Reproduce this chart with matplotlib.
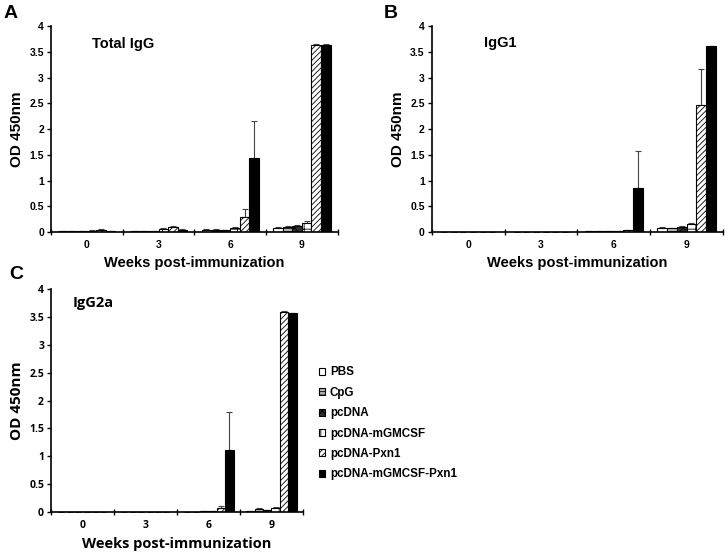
import numpy as np
import matplotlib.pyplot as plt

plt.rcParams['font.family'] = ['Liberation Sans', 'DejaVu Sans']
plt.rcParams['hatch.linewidth'] = 0.6

weeks = ['0', '3', '6', '9']
groups = ['PBS', 'CpG', 'pcDNA', 'pcDNA-mGMCSF', 'pcDNA-Pxn1', 'pcDNA-mGMCSF-Pxn1']

# mean OD per group, one row per group, one column per week
total_igg = [
    [0.01, 0.01, 0.04, 0.08],
    [0.01, 0.02, 0.04, 0.09],
    [0.01, 0.02, 0.03, 0.11],
    [0.02, 0.06, 0.08, 0.17],
    [0.04, 0.09, 0.30, 3.64],
    [0.02, 0.04, 1.43, 3.64],
]
total_igg_err = [
    [0.0, 0.0, 0.01, 0.02],
    [0.0, 0.0, 0.01, 0.02],
    [0.0, 0.0, 0.0, 0.02],
    [0.01, 0.01, 0.01, 0.05],
    [0.01, 0.02, 0.15, 0.01],
    [0.0, 0.01, 0.72, 0.01],
]
igg1 = [
    [0.0, 0.005, 0.01, 0.08],
    [0.0, 0.005, 0.02, 0.07],
    [0.0, 0.005, 0.01, 0.10],
    [0.0, 0.005, 0.02, 0.15],
    [0.0, 0.005, 0.03, 2.47],
    [0.0, 0.005, 0.85, 3.62],
]
igg1_err = [
    [0.0, 0.0, 0.0, 0.01],
    [0.0, 0.0, 0.0, 0.01],
    [0.0, 0.0, 0.0, 0.01],
    [0.0, 0.0, 0.0, 0.02],
    [0.0, 0.0, 0.0, 0.69],
    [0.0, 0.0, 0.72, 0.0],
]
igg2a = [
    [0.0, 0.0, 0.005, 0.01],
    [0.0, 0.0, 0.005, 0.06],
    [0.0, 0.0, 0.01, 0.03],
    [0.0, 0.0, 0.02, 0.07],
    [0.0, 0.0, 0.07, 3.58],
    [0.0, 0.0, 1.11, 3.57],
]
igg2a_err = [
    [0.0, 0.0, 0.0, 0.0],
    [0.0, 0.0, 0.0, 0.01],
    [0.0, 0.0, 0.0, 0.0],
    [0.0, 0.0, 0.0, 0.02],
    [0.0, 0.0, 0.03, 0.02],
    [0.0, 0.0, 0.69, 0.0],
]

faces = ['white', '#b4b4b4', '#303030', 'white', 'white', 'black']
hatches = [None, '-----', 'xxx', '++', '//////', None]


def draw_panel(ax, vals, errs, title, title_xy, letter, tick_font, label_font):
    n = len(groups)
    w = 0.8 / n
    x = np.arange(len(weeks))
    for i in range(n):
        pos = x - 0.4 + w * (i + 0.5)
        ax.bar(pos, vals[i], w, color=faces[i], edgecolor='black',
               hatch=hatches[i], linewidth=0.8, label=groups[i], zorder=2)
        ax.errorbar(pos, vals[i], yerr=[np.zeros(len(weeks)), errs[i]],
                    fmt='none', ecolor='#444444', elinewidth=0.8,
                    capsize=2.5, capthick=0.8, zorder=1)
    ax.set_xlim(-0.5, len(weeks) - 0.5)
    ax.set_ylim(0, 4)
    ax.set_yticks(np.arange(0, 4.01, 0.5))
    ax.set_yticklabels(['0', '0.5', '1', '1.5', '2', '2.5', '3', '3.5', '4'],
                       fontsize=7.5, fontweight='bold', family=tick_font)
    ax.set_xticks(np.arange(-0.5, len(weeks)), minor=False)
    ax.set_xticklabels([])
    ax.set_xticks(x, minor=True)
    ax.set_xticklabels(weeks, minor=True, fontsize=7.5, fontweight='bold',
                       family=tick_font)
    ax.tick_params(axis='x', which='minor', length=0, pad=6)
    ax.tick_params(axis='x', which='major', length=4, direction='inout', width=1)
    ax.tick_params(axis='y', length=3, direction='out', width=1, pad=2)
    for s in ['top', 'right']:
        ax.spines[s].set_visible(False)
    for s in ['left', 'bottom']:
        ax.spines[s].set_linewidth(1.2)
    ax.set_ylabel('OD 450nm', fontsize=11, fontweight='bold', family=label_font,
                  labelpad=4)
    ax.set_xlabel('Weeks post-immunization', fontsize=10.5, fontweight='bold',
                  family=label_font, labelpad=4)
    ax.text(title_xy[0], title_xy[1], title, transform=ax.transAxes,
            fontsize=10.5, fontweight='bold', family=label_font, va='center')
    ax.text(-0.165, 1.105, letter, transform=ax.transAxes, fontsize=14,
            fontweight='bold', va='top')


fig = plt.figure(figsize=(7.28, 5.59), dpi=100)
ax_a = fig.add_axes([0.070, 0.585, 0.394, 0.368])
ax_b = fig.add_axes([0.593, 0.585, 0.400, 0.368])
ax_c = fig.add_axes([0.070, 0.084, 0.346, 0.399])

draw_panel(ax_a, total_igg, total_igg_err, 'Total IgG', (0.143, 0.913), 'A',
           'Liberation Sans', 'Liberation Sans')
draw_panel(ax_b, igg1, igg1_err, 'IgG1', (0.179, 0.917), 'B',
           'Liberation Sans', 'Liberation Sans')
draw_panel(ax_c, igg2a, igg2a_err, 'IgG2a', (0.087, 0.937), 'C',
           'Open Sans', 'Open Sans')

handles, labels = ax_c.get_legend_handles_labels()
fig.legend(handles, labels, loc='center left', bbox_to_anchor=(0.438, 0.2424),
           frameon=False, prop={'family': 'Liberation Sans', 'weight': 'bold',
                                'size': 8.4},
           handlelength=0.55, handleheight=0.55, handletextpad=0.4,
           labelspacing=0.72, borderpad=0, borderaxespad=0)

fig.savefig('out.png', dpi=100)
